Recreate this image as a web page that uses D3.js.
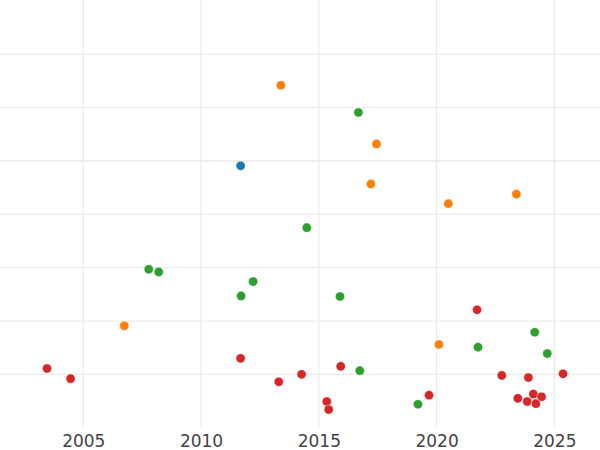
<!DOCTYPE html>
<html>
<head>
<meta charset="utf-8">
<script src="https://cdn.jsdelivr.net/npm/d3@7"></script>
<style>
html,body{margin:0;padding:0;background:#fff;}
svg{display:block;}
</style>
</head>
<body>
<div id="chart"></div>
<script>
const xTicks = [2005, 2010, 2015, 2020, 2025];
const yGrid = [1, 2, 3, 4, 5, 6, 7];

const blueYears = [2011.68];
const blueValues = [4.91];

const orangeYears = [2013.39, 2017.45, 2017.21, 2020.50, 2023.39, 2006.74, 2020.10];
const orangeValues = [6.42, 5.32, 4.57, 4.20, 4.38, 1.91, 1.56];

const greenYears = [2016.68, 2014.49, 2007.78, 2008.20, 2012.21, 2011.70, 2015.90, 2016.74, 2019.21, 2021.76, 2024.17, 2024.70];
const greenValues = [5.91, 3.75, 2.97, 2.92, 2.74, 2.47, 2.46, 1.07, 0.44, 1.51, 1.79, 1.39];

const redYears = [2003.46, 2004.46, 2011.68, 2013.30, 2014.27, 2015.93, 2015.34, 2015.42, 2019.68, 2021.72, 2022.77, 2023.90, 2023.45, 2023.85, 2024.11, 2024.46, 2024.22, 2025.37];
const redValues = [1.11, 0.92, 1.30, 0.86, 1.00, 1.15, 0.49, 0.34, 0.61, 2.21, 0.98, 0.94, 0.55, 0.49, 0.63, 0.58, 0.45, 1.01];

const seriesNames = ["blue", "orange", "green", "red"];
const seriesColors = ["#1f77b4", "#ff7f0e", "#2ca02c", "#d62728"];

const W = 600, H = 450;
const plotBottom = 426.7;

const svg = d3.select("#chart").append("svg").attr("width", W).attr("height", H);

const x = d3.scaleLinear().domain([2001.463, 2026.94]).range([0, W]);
const y = d3.scaleLinear().domain([0, 8]).range([427.7, 1]);

// grid
svg.append("g").selectAll("line.h").data(yGrid).join("line")
  .attr("x1", 0).attr("x2", W)
  .attr("y1", d => y(d)).attr("y2", d => y(d))
  .attr("stroke", "#ebebeb").attr("stroke-width", 1.3);

svg.append("g").selectAll("line.v").data(xTicks).join("line")
  .attr("x1", d => x(d)).attr("x2", d => x(d))
  .attr("y1", 0).attr("y2", plotBottom)
  .attr("stroke", "#ebebeb").attr("stroke-width", 1.3);

// x axis labels
const xAxis = d3.axisBottom(x).tickValues(xTicks).tickFormat(d3.format("d")).tickSize(0).tickPadding(0);
const gx = svg.append("g").attr("transform", `translate(0,${plotBottom})`).call(xAxis);
gx.select(".domain").remove();
gx.selectAll("text")
  .attr("dy", null)
  .attr("y", 20)
  .attr("fill", "#444")
  .style("font-family", "DejaVu Sans, sans-serif")
  .style("font-size", "17px");

// points
const series = [
  {years: blueYears, values: blueValues},
  {years: orangeYears, values: orangeValues},
  {years: greenYears, values: greenValues},
  {years: redYears, values: redValues}
];

series.forEach((s, i) => {
  const pts = s.years.map((yr, j) => ({yr, v: s.values[j]}));
  svg.append("g").attr("class", seriesNames[i]).selectAll("circle").data(pts).join("circle")
    .attr("cx", d => x(d.yr))
    .attr("cy", d => y(d.v))
    .attr("r", 4.6)
    .attr("fill", seriesColors[i])
    .attr("stroke", "#fff")
    .attr("stroke-width", 0.4);
});
</script>
</body>
</html>
